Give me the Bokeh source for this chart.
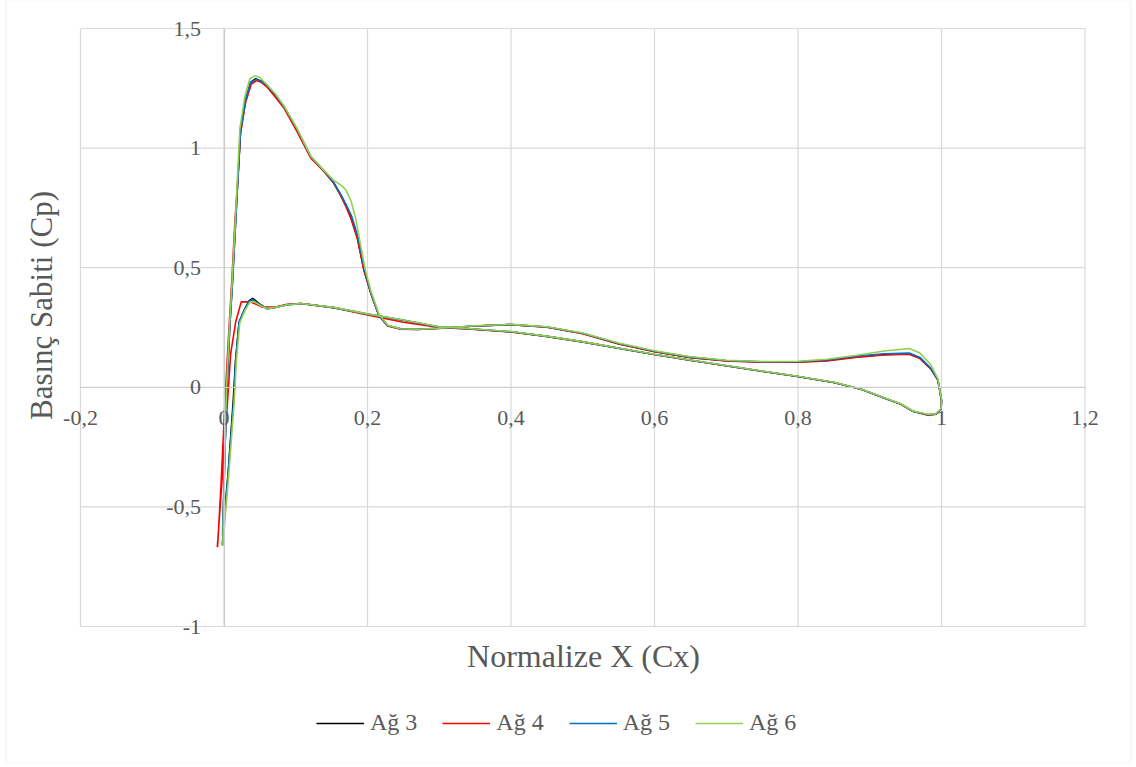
import math
from bokeh.plotting import figure
from bokeh.models import (LinearAxis, FixedTicker, Legend, LegendItem, Label, Range1d, BoxAnnotation)
from bokeh.embed import file_html
from bokeh.resources import INLINE

# ---- axis ticks / labels ----
x_ticks = [-0.2, 0.0, 0.2, 0.4, 0.6, 0.8, 1.0, 1.2]
x_tick_labels = ["-0,2", "0", "0,2", "0,4", "0,6", "0,8", "1", "1,2"]
y_ticks = [-1.0, -0.5, 0.0, 0.5, 1.0, 1.5]
y_tick_labels = ["-1", "-0,5", "0", "0,5", "1", "1,5"]

series_names = ["Ağ 3", "Ağ 4", "Ağ 5", "Ağ 6"]

# ---- data: leading edge -> upper branch -> trailing edge -> lower branch -> leading edge ----
ag3_x = [-0.002, 0.001, 0.004, 0.008, 0.012, 0.016, 0.019, 0.023, 0.030, 0.037, 0.044, 0.052, 0.060, 0.072, 0.084,
         0.102, 0.121, 0.139, 0.153, 0.163, 0.170, 0.177, 0.186, 0.195, 0.205, 0.216, 0.228, 0.246, 0.27, 0.30,
         0.35, 0.40, 0.45, 0.50, 0.55, 0.60, 0.65, 0.70, 0.75, 0.80, 0.84, 0.88, 0.92, 0.955, 0.97, 0.985, 0.995, 1.0,
         0.9995, 0.992, 0.981, 0.96, 0.943, 0.92, 0.888, 0.85, 0.80, 0.75, 0.70, 0.65, 0.60, 0.55, 0.50, 0.45, 0.40,
         0.35, 0.30, 0.25, 0.20, 0.153, 0.107, 0.088, 0.070, 0.060, 0.049, 0.040, 0.035, 0.028, 0.021, 0.016, 0.013,
         0.006, -0.002]
ag3_y = [-0.66, -0.30, 0.00, 0.25, 0.45, 0.68, 0.85, 1.07, 1.20, 1.275, 1.29, 1.28, 1.26, 1.22, 1.17,
         1.075, 0.962, 0.905, 0.855, 0.80, 0.76, 0.71, 0.625, 0.49, 0.39, 0.30, 0.258, 0.245, 0.243, 0.247,
         0.256, 0.262, 0.252, 0.225, 0.182, 0.15, 0.125, 0.111, 0.106, 0.106, 0.112, 0.127, 0.137, 0.14, 0.122, 0.078, 0.03, -0.055,
         -0.09, -0.112, -0.115, -0.10, -0.07, -0.045, -0.008, 0.02, 0.045, 0.067, 0.09, 0.113, 0.137, 0.163, 0.19, 0.213, 0.232,
         0.243, 0.252, 0.28, 0.306, 0.333, 0.35, 0.345, 0.333, 0.329, 0.35, 0.372, 0.362, 0.322, 0.272, 0.11, -0.05,
         -0.35, -0.62]

ag4_x = [-0.009, -0.004, 0.002, 0.007, 0.011, 0.015, 0.019, 0.023, 0.030, 0.038, 0.046, 0.053, 0.060, 0.072, 0.084,
         0.102, 0.121, 0.139, 0.153, 0.163, 0.170, 0.177, 0.186, 0.195, 0.205, 0.216, 0.228, 0.246, 0.27, 0.30,
         0.35, 0.40, 0.45, 0.50, 0.55, 0.60, 0.65, 0.70, 0.75, 0.80, 0.84, 0.88, 0.92, 0.955, 0.97, 0.985, 0.995, 1.0,
         0.9995, 0.992, 0.981, 0.96, 0.943, 0.92, 0.888, 0.85, 0.80, 0.75, 0.70, 0.65, 0.60, 0.55, 0.50, 0.45, 0.40,
         0.35, 0.30, 0.25, 0.20, 0.153, 0.107, 0.088, 0.070, 0.0535, 0.037, 0.024, 0.0163, 0.0093, 0.004, -0.003, -0.0093]
ag4_y = [-0.668, -0.40, -0.02, 0.25, 0.45, 0.68, 0.86, 1.06, 1.19, 1.268, 1.283, 1.273, 1.255, 1.212, 1.165,
         1.068, 0.958, 0.903, 0.853, 0.80, 0.755, 0.705, 0.62, 0.49, 0.39, 0.298, 0.256, 0.243, 0.242, 0.246,
         0.256, 0.262, 0.251, 0.224, 0.181, 0.149, 0.124, 0.11, 0.105, 0.105, 0.11, 0.125, 0.135, 0.138, 0.12, 0.077, 0.03, -0.055,
         -0.09, -0.113, -0.117, -0.10, -0.07, -0.045, -0.008, 0.02, 0.045, 0.067, 0.09, 0.113, 0.137, 0.163, 0.19, 0.213, 0.231,
         0.242, 0.25, 0.272, 0.302, 0.333, 0.35, 0.347, 0.335, 0.336, 0.357, 0.357, 0.273, 0.14, -0.10, -0.40, -0.668]

ag5_x = [-0.002, 0.001, 0.004, 0.008, 0.012, 0.016, 0.019, 0.023, 0.030, 0.037, 0.045, 0.052, 0.060, 0.072, 0.084,
         0.102, 0.121, 0.139, 0.153, 0.163, 0.170, 0.178, 0.187, 0.196, 0.205, 0.216, 0.228, 0.246, 0.27, 0.30,
         0.35, 0.40, 0.45, 0.50, 0.55, 0.60, 0.65, 0.70, 0.75, 0.80, 0.84, 0.88, 0.92, 0.955, 0.97, 0.985, 0.995, 1.0,
         0.9995, 0.992, 0.981, 0.96, 0.943, 0.92, 0.888, 0.85, 0.80, 0.75, 0.70, 0.65, 0.60, 0.55, 0.50, 0.45, 0.40,
         0.35, 0.30, 0.25, 0.20, 0.153, 0.107, 0.088, 0.070, 0.060, 0.049, 0.040, 0.035, 0.028, 0.021, 0.0163, 0.014,
         0.006, -0.0023]
ag5_y = [-0.605, -0.30, 0.00, 0.25, 0.45, 0.68, 0.85, 1.07, 1.20, 1.273, 1.288, 1.28, 1.262, 1.222, 1.172,
         1.078, 0.965, 0.907, 0.856, 0.805, 0.765, 0.715, 0.625, 0.49, 0.392, 0.30, 0.258, 0.244, 0.242, 0.247,
         0.256, 0.262, 0.252, 0.226, 0.183, 0.151, 0.126, 0.112, 0.107, 0.107, 0.114, 0.13, 0.14, 0.143, 0.125, 0.08, 0.031, -0.055,
         -0.09, -0.112, -0.115, -0.10, -0.07, -0.045, -0.008, 0.02, 0.045, 0.067, 0.09, 0.113, 0.137, 0.163, 0.19, 0.213, 0.232,
         0.243, 0.252, 0.28, 0.306, 0.333, 0.35, 0.345, 0.333, 0.329, 0.348, 0.366, 0.36, 0.322, 0.272, 0.113, -0.04,
         -0.35, -0.66]

ag6_x = [-0.0016, 0.001, 0.0035, 0.0075, 0.0115, 0.0155, 0.0185, 0.022, 0.029, 0.036, 0.043, 0.050, 0.060, 0.072, 0.084,
         0.102, 0.121, 0.139, 0.153, 0.163, 0.170, 0.177, 0.184, 0.190, 0.197, 0.205, 0.216, 0.228, 0.246, 0.27, 0.30,
         0.35, 0.40, 0.45, 0.50, 0.55, 0.60, 0.65, 0.70, 0.75, 0.80, 0.84, 0.88, 0.92, 0.955, 0.97, 0.985, 0.995, 1.0,
         0.9995, 0.992, 0.981, 0.96, 0.943, 0.92, 0.888, 0.85, 0.80, 0.75, 0.70, 0.65, 0.60, 0.55, 0.50, 0.45, 0.40,
         0.35, 0.30, 0.25, 0.20, 0.153, 0.107, 0.088, 0.070, 0.060, 0.050, 0.042, 0.036, 0.029, 0.022, 0.0172, 0.0145,
         0.007, -0.0016]
ag6_y = [-0.66, -0.30, 0.00, 0.25, 0.45, 0.68, 0.86, 1.08, 1.215, 1.29, 1.302, 1.295, 1.265, 1.225, 1.175,
         1.08, 0.965, 0.908, 0.865, 0.845, 0.825, 0.78, 0.70, 0.60, 0.49, 0.40, 0.305, 0.26, 0.245, 0.243, 0.247,
         0.257, 0.263, 0.253, 0.227, 0.185, 0.153, 0.128, 0.113, 0.108, 0.109, 0.117, 0.133, 0.152, 0.162, 0.143, 0.095, 0.035, -0.05,
         -0.088, -0.11, -0.113, -0.099, -0.069, -0.044, -0.007, 0.021, 0.046, 0.068, 0.091, 0.114, 0.138, 0.164, 0.191, 0.214, 0.233,
         0.244, 0.253, 0.281, 0.307, 0.334, 0.35, 0.345, 0.333, 0.33, 0.343, 0.358, 0.356, 0.32, 0.27, 0.11, -0.05,
         -0.35, -0.66]

series_x = [ag3_x, ag4_x, ag5_x, ag6_x]
series_y = [ag3_y, ag4_y, ag5_y, ag6_y]
colors = ["#000000", "#ff0000", "#0070c0", "#92d050"]

TXT = "#595959"
GRID = "#d9d9d9"
FONT = "Liberation Serif"

# ---- layout: the frame covers the whole chart; plot area sits at px 80..1084.5 x 28..626 ----
W, H = 1136, 767
PA_L, PA_R, PA_T, PA_B = 80.0, 1084.5, 28.0, 626.0
sx = (PA_R - PA_L) / (x_ticks[-1] - x_ticks[0])
sy = (PA_B - PA_T) / (y_ticks[-1] - y_ticks[0])
def dx(px):
    return x_ticks[0] + (px - PA_L) / sx
def dy(py):
    return y_ticks[-1] - (py - PA_T) / sy

p = figure(width=W, height=H,
           x_range=Range1d(dx(0), dx(W)), y_range=Range1d(dy(H), dy(0)),
           output_backend="svg", toolbar_location=None,
           x_axis_location=None, y_axis_location=None,
           min_border=0, outline_line_color=None,
           background_fill_color="white", border_fill_color="white")
p.xgrid.visible = False
p.ygrid.visible = False

# outer chart border
p.add_layout(BoxAnnotation(left=dx(5.5), right=dx(1130.5), top=dy(0.5), bottom=dy(762.5),
                           fill_alpha=0, line_color=GRID, line_width=1.2))

# gridlines (plot-area border included)
p.segment(x0=x_ticks, y0=[y_ticks[0]] * len(x_ticks), x1=x_ticks, y1=[y_ticks[-1]] * len(x_ticks),
          line_color=GRID, line_width=1.2)
p.segment(x0=[x_ticks[0]] * len(y_ticks), y0=y_ticks, x1=[x_ticks[-1]] * len(y_ticks), y1=y_ticks,
          line_color=GRID, line_width=1.2)

xaxis = LinearAxis(fixed_location=0, ticker=FixedTicker(ticks=x_ticks), bounds=(x_ticks[0], x_ticks[-1]),
                   major_label_overrides={v: s for v, s in zip(x_ticks, x_tick_labels)},
                   axis_line_color="#cccccc", axis_line_width=1.2,
                   major_tick_line_color=None, minor_tick_line_color=None,
                   major_tick_out=0, major_tick_in=0,
                   major_label_text_font=FONT, major_label_text_font_size="22px",
                   major_label_text_color=TXT, major_label_standoff=24)
yaxis = LinearAxis(fixed_location=0, ticker=FixedTicker(ticks=y_ticks), bounds=(y_ticks[0], y_ticks[-1]),
                   major_label_overrides={v: s for v, s in zip(y_ticks, y_tick_labels)},
                   axis_line_color="#cccccc", axis_line_width=1.2,
                   major_tick_line_color=None, minor_tick_line_color=None,
                   major_tick_out=0, major_tick_in=0,
                   major_label_text_font=FONT, major_label_text_font_size="22px",
                   major_label_text_color=TXT, major_label_standoff=23)
p.add_layout(xaxis, "below")
p.add_layout(yaxis, "left")

renderers = []
for xs, ys, c in zip(series_x, series_y, colors):
    r = p.line(xs, ys, line_color=c, line_width=1.6)
    renderers.append(r)

legend = Legend(items=[LegendItem(label=n, renderers=[r]) for n, r in zip(series_names, renderers)],
                orientation="horizontal", location=(316, H - 736),
                glyph_width=48, glyph_height=20, label_standoff=6, spacing=25,
                padding=0, margin=0, border_line_color=None, background_fill_alpha=0,
                label_text_font=FONT, label_text_font_size="24px", label_text_color=TXT)
p.add_layout(legend)

p.add_layout(Label(x=dx(583), y=dy(655), text="Normalize X (Cx)", text_align="center",
                   text_baseline="alphabetic", text_font=FONT, text_font_size="32px", text_color=TXT))
p.add_layout(Label(x=dx(41), y=dy(305), text="Basınç Sabiti (Cp)", angle=math.pi / 2,
                   text_align="center", text_baseline="middle",
                   text_font=FONT, text_font_size="31px", text_color=TXT))

open("out.html", "w").write(file_html(p, INLINE))
